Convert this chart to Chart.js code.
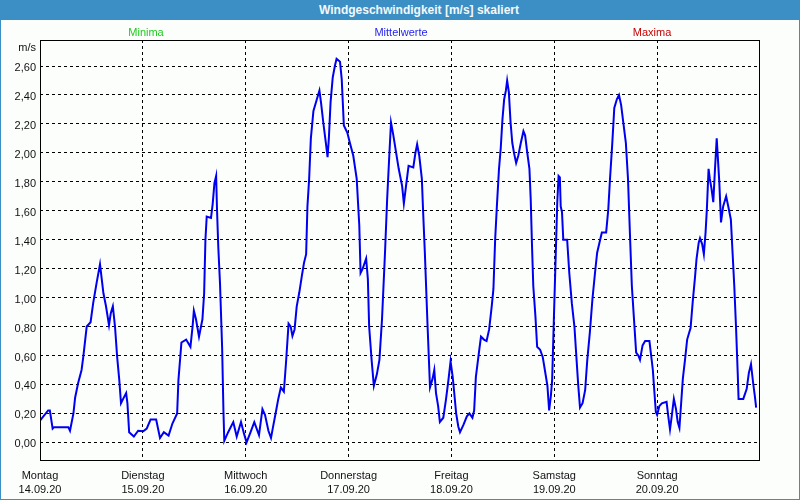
<!DOCTYPE html>
<html>
<head>
<meta charset="utf-8">
<script src="https://cdn.jsdelivr.net/npm/chart.js@4.4.1/dist/chart.umd.min.js"></script>
<style>
  html, body { margin: 0; padding: 0; background: #fcfefc; }
  #wrap { position: relative; width: 800px; height: 500px; background: #fcfefc; overflow: hidden;
          font-family: "Liberation Sans", Arial, sans-serif; }
  #chart { position: absolute; left: 0; top: 0; }
  #frame { position: absolute; left: 0; top: 0; width: 798px; height: 498px;
           border: 1px solid #3c8fc4; pointer-events: none; }
  #titlebar { position: absolute; left: 0; top: 0; width: 800px; height: 20px; background: #3c8fc4; }
  #title { position: absolute; left: 419px; top: 10px; transform: translate(-50%, -50%);
           color: #f4f8fb; font-weight: bold; font-size: 12px; white-space: nowrap; }
  .leg { position: absolute; top: 32px; transform: translate(-50%, -50%); font-size: 11px; white-space: nowrap; }
  #unit { position: absolute; right: 764px; top: 47px; transform: translateY(-50%); font-size: 11px; color: #111; }
</style>
</head>
<body>
<div id="wrap">
  <canvas id="chart" width="800" height="500"></canvas>
  <div id="titlebar"></div>
  <div id="title">Windgeschwindigkeit [m/s] skaliert</div>
  <div class="leg" style="left:146px;color:#1ec81e">Minima</div>
  <div class="leg" style="left:401px;color:#1e1ef0">Mittelwerte</div>
  <div class="leg" style="left:652px;color:#c80000">Maxima</div>
  <div id="unit">m/s</div>
  <div id="frame"></div>
</div>
<script>
// x axis: hours since Montag 14.09.20 00:00
const dayNames = ["Montag", "Dienstag", "Mittwoch", "Donnerstag", "Freitag", "Samstag", "Sonntag"];
const dayDates = ["14.09.20", "15.09.20", "16.09.20", "17.09.20", "18.09.20", "19.09.20", "20.09.20"];
const dayTicks = [0, 24, 48, 72, 96, 120, 144];
const speedTicks = [0, 0.2, 0.4, 0.6, 0.8, 1.0, 1.2, 1.4, 1.6, 1.8, 2.0, 2.2, 2.4, 2.6];

// Mittelwerte
const hours = [
  0, 1.9, 2.3, 2.95, 3.3, 6.6, 7.0, 7.8, 8.2, 8.9, 9.7, 10.1, 10.9, 11.8, 12.4, 13.2, 14.0, 14.8, 15.4, 16.1,
  16.5, 17.0, 17.5, 18.0, 18.5, 18.9, 19.4, 20.1, 20.4, 20.8, 21.9, 22.9, 24.1, 24.9, 25.8, 27.1, 28.0, 28.9, 30.0, 30.9,
  32.0, 32.3, 33.0, 34.1, 35.1, 35.6, 35.9, 36.4, 37.1, 37.9, 38.3, 38.6, 38.9, 39.9, 40.3, 40.7, 41.1, 41.3, 41.6, 42.0,
  42.5, 42.8, 43.0, 43.9, 45.1, 45.9, 46.9, 47.6, 48.2, 49.0, 50.0, 51.1, 51.9, 52.5, 53.3, 53.9, 54.4, 55.1, 55.6, 56.2,
  56.9, 57.4, 58.0, 58.5, 58.9, 59.4, 59.9, 60.5, 61.1, 61.6, 62.1, 62.4, 62.8, 63.2, 63.8, 64.6, 65.2, 65.6, 66.1, 66.7,
  67.1, 67.4, 67.8, 68.3, 68.8, 69.2, 70.0, 70.4, 70.9, 71.7, 72.3, 73.1, 73.9, 74.5, 74.8, 75.3, 76.1, 76.5, 76.8, 77.4,
  77.9, 78.6, 79.2, 79.8, 80.5, 81.0, 81.5, 81.9, 82.4, 83.1, 83.7, 84.5, 84.9, 85.4, 86.0, 87.1, 87.6, 88.0, 88.5, 89.1,
  89.4, 89.8, 90.4, 91.0, 91.6, 92.0, 92.4, 92.9, 93.3, 94.1, 94.7, 95.3, 95.8, 96.3, 96.6, 97.1, 97.6, 98.0, 98.8, 99.6,
  100.2, 100.9, 101.3, 101.7, 102.5, 102.9, 103.6, 104.2, 104.8, 105.4, 105.8, 106.2, 106.6, 107.1, 107.5, 107.9, 108.3, 108.7, 109.0, 109.4,
  109.8, 110.2, 110.6, 111.1, 111.6, 112.2, 112.8, 113.2, 113.7, 114.2, 114.5, 114.8, 115.1, 115.6, 116.0, 116.7, 117.3, 117.8, 118.4, 118.8,
  119.2, 119.5, 119.9, 120.4, 120.7, 121.0, 121.3, 121.5, 121.8, 122.1, 123.0, 123.5, 124.1, 124.7, 125.2, 125.6, 126.0, 126.6, 127.2, 127.7,
  128.3, 128.9, 129.5, 130.0, 130.7, 131.1, 132.1, 132.6, 133.0, 133.5, 134.0, 134.6, 135.1, 135.6, 136.1, 136.7, 137.2, 137.7, 138.1, 138.6,
  139.1, 139.6, 140.0, 140.6, 141.2, 142.2, 142.6, 143.0, 143.3, 143.7, 144.0, 144.5, 145.1, 146.2, 146.6, 147.0, 147.4, 147.9, 148.4, 148.8,
  149.2, 149.6, 150.0, 150.5, 151.0, 151.5, 151.8, 152.3, 152.8, 153.2, 153.7, 154.0, 154.5, 154.9, 155.3, 155.6, 156.0, 156.3, 156.7, 157.1,
  157.5, 157.9, 158.1, 158.5, 158.9, 159.4, 160.1, 160.6, 161.2, 161.6, 162.0, 162.4, 162.8, 163.0, 164.1, 164.9, 165.4, 165.9, 166.4, 166.8,
  167.1
];
const speeds = [
  0.15, 0.22, 0.22, 0.095, 0.105, 0.105, 0.08, 0.20, 0.31, 0.41, 0.50, 0.59, 0.80, 0.83, 0.96, 1.10, 1.23, 1.03, 0.94, 0.81,
  0.89, 0.94, 0.80, 0.59, 0.43, 0.27, 0.30, 0.34, 0.27, 0.07, 0.04, 0.08, 0.076, 0.095, 0.157, 0.157, 0.03, 0.07, 0.046, 0.13,
  0.20, 0.43, 0.69, 0.71, 0.66, 0.80, 0.91, 0.85, 0.73, 0.85, 1.03, 1.40, 1.56, 1.55, 1.65, 1.79, 1.84, 1.61, 1.35, 1.10,
  0.65, 0.22, 0.01, 0.07, 0.14, 0.04, 0.14, 0.06, 0.00, 0.06, 0.14, 0.05, 0.23, 0.19, 0.08, 0.03, 0.11, 0.22, 0.30, 0.38,
  0.35, 0.55, 0.82, 0.80, 0.735, 0.78, 0.94, 1.035, 1.15, 1.24, 1.30, 1.63, 1.82, 2.10, 2.29, 2.37, 2.43, 2.34, 2.21, 2.07,
  1.97, 2.10, 2.35, 2.52, 2.60, 2.65, 2.63, 2.51, 2.19, 2.14, 2.07, 1.98, 1.82, 1.50, 1.17, 1.20, 1.27, 1.13, 0.80, 0.56,
  0.39, 0.47, 0.57, 0.85, 1.31, 1.68, 1.98, 2.21, 2.13, 2.00, 1.89, 1.77, 1.65, 1.77, 1.91, 1.90, 2.00, 2.06, 1.98, 1.82,
  1.59, 1.31, 0.83, 0.38, 0.44, 0.50, 0.34, 0.25, 0.14, 0.17, 0.29, 0.43, 0.56, 0.45, 0.36, 0.20, 0.11, 0.07, 0.12, 0.18,
  0.20, 0.17, 0.22, 0.45, 0.64, 0.73, 0.71, 0.70, 0.78, 0.94, 1.06, 1.40, 1.63, 1.89, 2.03, 2.23, 2.37, 2.43, 2.50, 2.42,
  2.21, 2.07, 2.00, 1.93, 1.98, 2.07, 2.15, 2.12, 2.00, 1.89, 1.68, 1.36, 1.08, 0.87, 0.66, 0.64, 0.59, 0.50, 0.39, 0.22,
  0.32, 0.43, 0.85, 1.36, 1.66, 1.84, 1.83, 1.63, 1.59, 1.40, 1.40, 1.17, 0.96, 0.80, 0.57, 0.39, 0.24, 0.27, 0.36, 0.57,
  0.76, 0.99, 1.17, 1.31, 1.40, 1.45, 1.45, 1.61, 1.82, 2.05, 2.31, 2.37, 2.40, 2.33, 2.21, 2.07, 1.82, 1.40, 1.08, 0.85,
  0.62, 0.60, 0.57, 0.67, 0.70, 0.70, 0.60, 0.50, 0.37, 0.21, 0.19, 0.25, 0.27, 0.28, 0.18, 0.09, 0.18, 0.30, 0.23, 0.14,
  0.10, 0.27, 0.44, 0.57, 0.71, 0.76, 0.79, 0.97, 1.13, 1.27, 1.38, 1.41, 1.37, 1.30, 1.45, 1.61, 1.89, 1.82, 1.75, 1.66,
  1.89, 2.10, 2.00, 1.80, 1.52, 1.63, 1.70, 1.63, 1.54, 1.31, 1.08, 0.80, 0.48, 0.30, 0.30, 0.37, 0.48, 0.54, 0.41, 0.32,
  0.24
];

const fmt = (v) => v.toFixed(2).replace(".", ",");

// black box round the plot area
const frameBox = {
  id: "frameBox",
  afterDraw(chart) {
    const { ctx, chartArea: a } = chart;
    ctx.save();
    ctx.strokeStyle = "#000";
    ctx.lineWidth = 1;
    ctx.setLineDash([]);
    ctx.strokeRect(a.left + 0.5, a.top + 0.5, a.right - a.left - 1, a.bottom - a.top - 1);
    ctx.restore();
  },
};

const font = { family: "'Liberation Sans', Arial, sans-serif", size: 11 };

new Chart(document.getElementById("chart"), {
  type: "line",
  data: {
    datasets: [{
      label: "Mittelwerte",
      data: hours.map((h, i) => ({ x: h, y: speeds[i] })),
      borderColor: "#0000f0",
      borderWidth: 2,
      pointRadius: 0,
      tension: 0,
      fill: false,
    }],
  },
  options: {
    responsive: false,
    animation: false,
    devicePixelRatio: 1,
    layout: { padding: { top: 40, right: 40, left: 0, bottom: 0 } },
    plugins: { legend: { display: false }, tooltip: { enabled: false } },
    scales: {
      x: {
        type: "linear",
        min: 0,
        max: 168,
        afterBuildTicks: (s) => { s.ticks = dayTicks.map((v) => ({ value: v })); },
        afterFit: (s) => { s.height = 39; },
        grid: { color: "#000", lineWidth: 1, drawTicks: false },
        border: { display: false, dash: [3, 3] },
        ticks: {
          padding: 7,
          maxRotation: 0,
          autoSkip: false,
          color: "#111",
          font: { ...font, lineHeight: 1.36 },
          callback: (v) => {
            const i = dayTicks.indexOf(v);
            return i < 0 ? "" : [dayNames[i], dayDates[i]];
          },
        },
      },
      y: {
        min: -0.129,
        max: 2.78,
        afterBuildTicks: (s) => { s.ticks = speedTicks.map((v) => ({ value: v })); },
        afterFit: (s) => { s.width = 40; },
        grid: { color: "#000", lineWidth: 1, drawTicks: false },
        border: { display: false, dash: [3, 3] },
        ticks: { padding: 4, labelOffset: 2, color: "#111", font, callback: (v) => fmt(v) },
      },
    },
  },
  plugins: [frameBox],
});
</script>
</body>
</html>
